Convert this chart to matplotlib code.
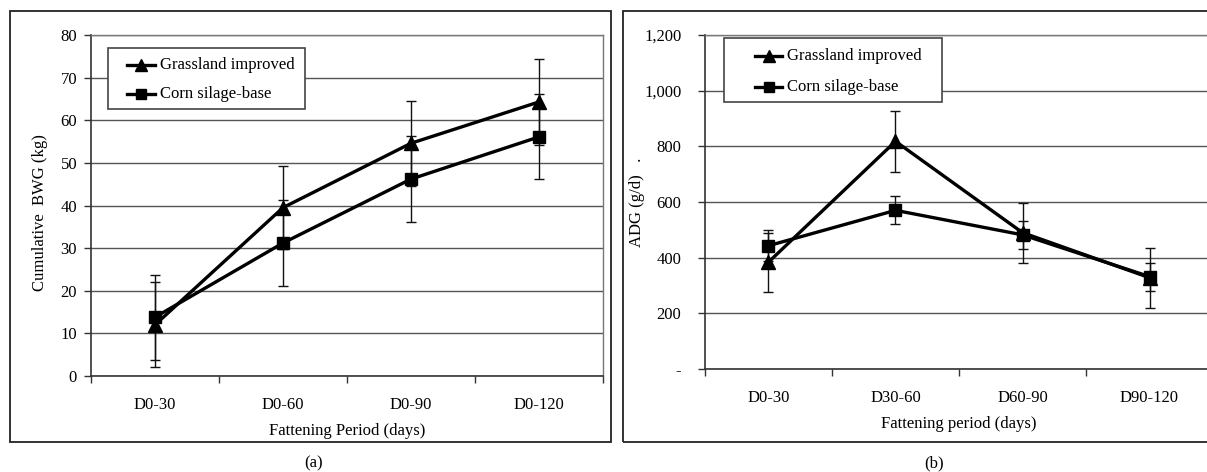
import matplotlib
matplotlib.use("Agg")
import matplotlib.pyplot as plt
from matplotlib.patches import Rectangle
from matplotlib.lines import Line2D
import numpy as np

plt.rcParams['font.family'] = ['Liberation Serif', 'DejaVu Serif']

# ---- data ----
cats_a = ["D0-30", "D0-60", "D0-90", "D0-120"]
gi_a = [12.0, 39.5, 54.6, 64.3]
gi_a_err = [10.0, 9.8, 10.0, 10.0]
cs_a = [13.8, 31.2, 46.2, 56.1]
cs_a_err = [10.0, 10.0, 10.0, 10.0]

cats_b = ["D0-30", "D30-60", "D60-90", "D90-120"]
gi_b = [384, 818, 490, 328]
gi_b_err = [106, 110, 108, 108]
cs_b = [443, 570, 482, 332]
cs_b_err = [55, 50, 50, 50]

yticks_a = [0, 10, 20, 30, 40, 50, 60, 70, 80]
yticks_b = [0, 200, 400, 600, 800, 1000, 1200]
yticklabels_b = ["-", "200", "400", "600", "800", "1,000", "1,200"]

labels = ["Grassland improved", "Corn silage-base"]

W, H = 1207, 472
fig = plt.figure(figsize=(W / 100, H / 100), dpi=100)


def fbox(x0, y0, x1, y1):
    return [x0 / W, 1 - y1 / H, (x1 - x0) / W, (y1 - y0) / H]


# outer frames
for (x0, y0, x1, y1) in [(10, 11, 611, 442), (623, 11, 1216, 442)]:
    b = fbox(x0, y0, x1, y1)
    fig.patches.append(Rectangle((b[0], b[1]), b[2], b[3], transform=fig.transFigure,
                                 fill=False, edgecolor="#222222", linewidth=1.3))

FS = 12
GRID = "#555555"


def style_axes(ax, cats, yticks, ylim, yticklabels, ypad):
    n = len(cats)
    ax.set_xlim(-0.5, n - 0.5)
    ax.set_ylim(*ylim)
    ax.set_xticks(np.arange(n + 1) - 0.5)
    ax.set_xticklabels([])
    ax.set_xticks(np.arange(n), minor=True)
    ax.set_xticklabels(cats, minor=True, fontsize=FS)
    ax.tick_params(axis="x", which="minor", length=0, pad=15)
    ax.tick_params(axis="x", which="major", length=5, width=1, color="#333333", direction="out")
    ax.set_yticks(yticks)
    ax.set_yticklabels(yticklabels, fontsize=FS)
    ax.tick_params(axis="y", length=5, width=1, color="#333333", direction="out", pad=ypad)
    ax.grid(axis="y", color=GRID, linewidth=1)
    ax.set_axisbelow(True)
    for s in ["left", "bottom"]:
        ax.spines[s].set_color("#333333")
        ax.spines[s].set_linewidth(1.2)
    for s in ["top", "right"]:
        ax.spines[s].set_color("#777777")
        ax.spines[s].set_linewidth(1.0)


def plot_series(ax, x, y, e, marker, ms):
    ax.errorbar(x, y, yerr=e, fmt="none", ecolor="#111111", elinewidth=1, capsize=3.5, capthick=1, zorder=3)
    ax.plot(x, y, color="black", linewidth=2.4, marker=marker, markersize=ms, zorder=4)


# ---- panel a ----
axa = fig.add_axes(fbox(91, 35, 603, 376))
style_axes(axa, cats_a, yticks_a, (0, 80), [str(v) for v in yticks_a], 5)
xa = np.arange(len(cats_a))
plot_series(axa, xa, gi_a, gi_a_err, "^", 10)
plot_series(axa, xa, cs_a, cs_a_err, "s", 8.5)
axa.set_xlabel("Fattening Period (days)", fontsize=FS, labelpad=7)
axa.set_ylabel("Cumulative  BWG (kg)", fontsize=FS)
axa.yaxis.set_label_coords(-0.084, 0.48)

# ---- panel b ----
axb = fig.add_axes(fbox(705, 35, 1213, 369))
style_axes(axb, cats_b, yticks_b, (0, 1200), yticklabels_b, 12)
xb = np.arange(len(cats_b))
plot_series(axb, xb, gi_b, gi_b_err, "^", 10)
plot_series(axb, xb, cs_b, cs_b_err, "s", 8.5)
axb.set_xlabel("Fattening period (days)", fontsize=FS, labelpad=7)
axb.set_ylabel("ADG (g/d)   .", fontsize=FS)
axb.yaxis.set_label_coords(-0.118, 0.5)


# legends (manual, Excel-like)
def legend(x0, y0, x1, y1, hx0, hx1, tx, ys):
    b = fbox(x0, y0, x1, y1)
    fig.patches.append(Rectangle((b[0], b[1]), b[2], b[3], transform=fig.transFigure,
                                 facecolor="white", edgecolor="#444444", linewidth=1.2, zorder=10))
    for lab, yy, mk, ms in zip(labels, ys, ["^", "s"], [8.5, 7]):
        fy = 1 - yy / H
        fig.lines.append(Line2D([hx0 / W, hx1 / W], [fy, fy], transform=fig.transFigure,
                                color="black", linewidth=2.4, zorder=11))
        fig.lines.append(Line2D([(hx0 + hx1) / 2 / W], [fy], transform=fig.transFigure,
                                color="black", marker=mk, markersize=ms, zorder=12))
        fig.text(tx / W, fy, lab, fontsize=FS, va="center", ha="left", zorder=13)


legend(108, 48, 305, 109, 127, 155, 160, [65, 94])
legend(724, 38, 942, 102, 755, 782, 787, [56, 87])

fig.text(314 / W, 1 - 463 / H, "(a)", fontsize=FS, ha="center", va="center")
fig.text(934 / W, 1 - 463 / H, "(b)", fontsize=FS, ha="center", va="center")

fig.savefig("out.png", dpi=100)
